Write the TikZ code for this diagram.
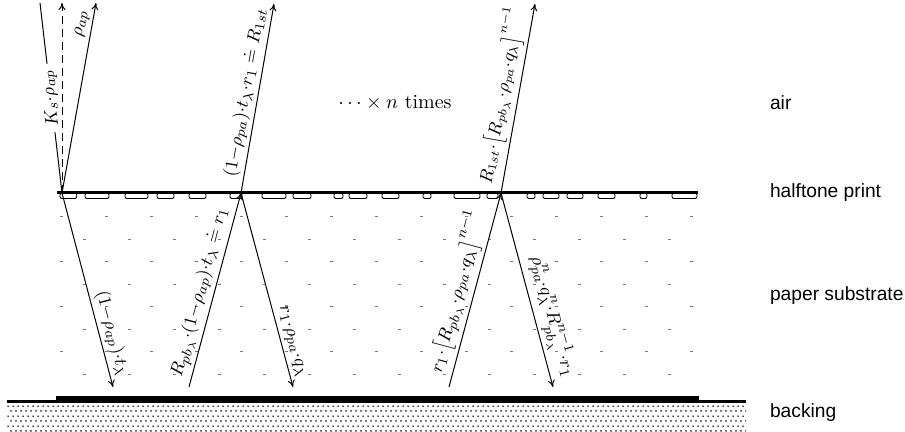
\documentclass[tikz,border=0pt]{standalone}
\usepackage{fontspec}
\newfontfamily\layerfont{Liberation Sans}
\usepackage{tikz}
\usetikzlibrary{calc,arrows.meta,patterns}
\definecolor{DashGray}{HTML}{7A7A7A}
\pgfdeclarepatternformonly{backdots}{\pgfqpoint{0pt}{0pt}}{\pgfqpoint{2.5pt}{5pt}}{\pgfqpoint{2.5pt}{5pt}}{%
  \pgfpathcircle{\pgfqpoint{0.6pt}{0.6pt}}{.5pt}%
  \pgfpathcircle{\pgfqpoint{1.85pt}{3.1pt}}{.5pt}%
  \pgfusepath{fill}}
\tikzset{
  ray/.style={-{To[length=3.5pt,width=3.5pt]},line width=0.5pt},
  raylbl/.style={sloped,inner sep=1.5pt,font=\fontsize{9.5}{11}\selectfont},
  layer/.style={anchor=west,font=\fontsize{9.6}{11}\selectfont\layerfont}
}

\begin{document}
\begin{tikzpicture}[x=0.5pt,y=-0.5pt]
\useasboundingbox (0,0) rectangle (905,432);
% backing
\fill[pattern=backdots] (7,402.5) rectangle (746,432);
\draw[line width=1.3pt] (7,401.3) -- (746,401.3);
\draw[line width=2.3pt] (56,398.3) -- (699,398.3);
% paper substrate
\foreach \j in {0,...,7} {
  \pgfmathsetmacro\off{mod(\j,2)*22.5}
  \pgfmathtruncatemacro\nk{14-mod(\j,2)}
  \foreach \k in {0,...,\nk} {
    \draw[DashGray,line width=0.5pt] ({60+\off+45*\k},{216.7+22.5*\j}) -- ++(3,0);
  }
}
% halftone print
\foreach \a/\b in {60/76.7, 85/109, 125/148, 157/174, 189/206, 230/242, 262/286,
                   293/311, 334/343, 349/367, 382/399, 423/431, 454/480, 487/498,
                   527/535, 543/559, 567/583, 598/615, 640/647, 672/697} {
  \draw[line width=0.45pt,rounded corners=1pt] (\a,193) rectangle (\b,198.5);
}
\draw[line width=1.6pt] (57,192.7) -- (698,192.7);
% points of the rays
\coordinate (h0) at (62,193);
\coordinate (h1) at (241,193);
\coordinate (h2) at (501,193);
\coordinate (s0) at (40,3);
\coordinate (t0) at (62,3);
\coordinate (t1) at (96,3);
\coordinate (t2) at (274,4);
\coordinate (t3) at (535,4);
\coordinate (b0) at (113,387);
\coordinate (b1) at (189,387);
\coordinate (b2) at (293,387);
\coordinate (b3) at (449,387);
\coordinate (b4) at (553,387);
% rays
\draw[line width=0.5pt] (h0) -- node[raylbl,allow upside down,fill=white,inner sep=3pt,pos=0.5] {$K_s{\cdot}\rho_{ap}$} (s0);
\draw[ray,dash pattern=on 4pt off 2.5pt] (h0) -- (t0);
\draw[ray] (h0) -- node[raylbl,above,pos=0.88] {$\rho_{ap}$} (t1);
\draw[ray] (h0) -- node[raylbl,above,pos=0.74] {$(1{-}\rho_{ap}){\cdot}t_\lambda$} (b0);
\draw[ray] (b1) -- node[raylbl,above,pos=0.47] {$R_{pb_\lambda}{\cdot}(1{-}\rho_{ap}){\cdot}t_\lambda\doteq r_1$} (h1);
\draw[ray] (h1) -- node[raylbl,above,pos=0.52] {$(1{-}\rho_{pa}){\cdot}t_\lambda{\cdot}r_1\doteq R_{1st}$} (t2);
\draw[ray] (h1) -- node[raylbl,above,pos=0.78] {$r_1{\cdot}\rho_{pa}{\cdot}q_\lambda$} (b2);
\draw[ray] (b3) -- node[raylbl,above,pos=0.47] {$r_1{\cdot}\bigl[R_{pb_\lambda}{\cdot}\rho_{pa}{\cdot}q_\lambda\bigr]^{n-1}$} (h2);
\draw[ray] (h2) -- node[raylbl,above,pos=0.5,font=\fontsize{9}{10}\selectfont] {$R_{1st}{\cdot}\bigl[R_{pb_\lambda}{\cdot}\rho_{pa}{\cdot}q_\lambda\bigr]^{n-1}$} (t3);
\draw[ray] (h2) -- node[raylbl,above,pos=0.66] {$\rho_{pa}^n{\cdot}q_\lambda^n{\cdot}R_{pb_\lambda}^{n-1}{\cdot}r_1$} (b4);
\node (times) at (395,103) {$\cdots\times n$ times};
% layers
\node[layer] (air) at (763,103) {air};
\node[layer] (print) at (763,193) {halftone print};
\node[layer] (paper) at (763,296) {paper substrate};
\node[layer] (backing) at (763,413) {backing};
\end{tikzpicture}
\end{document}
